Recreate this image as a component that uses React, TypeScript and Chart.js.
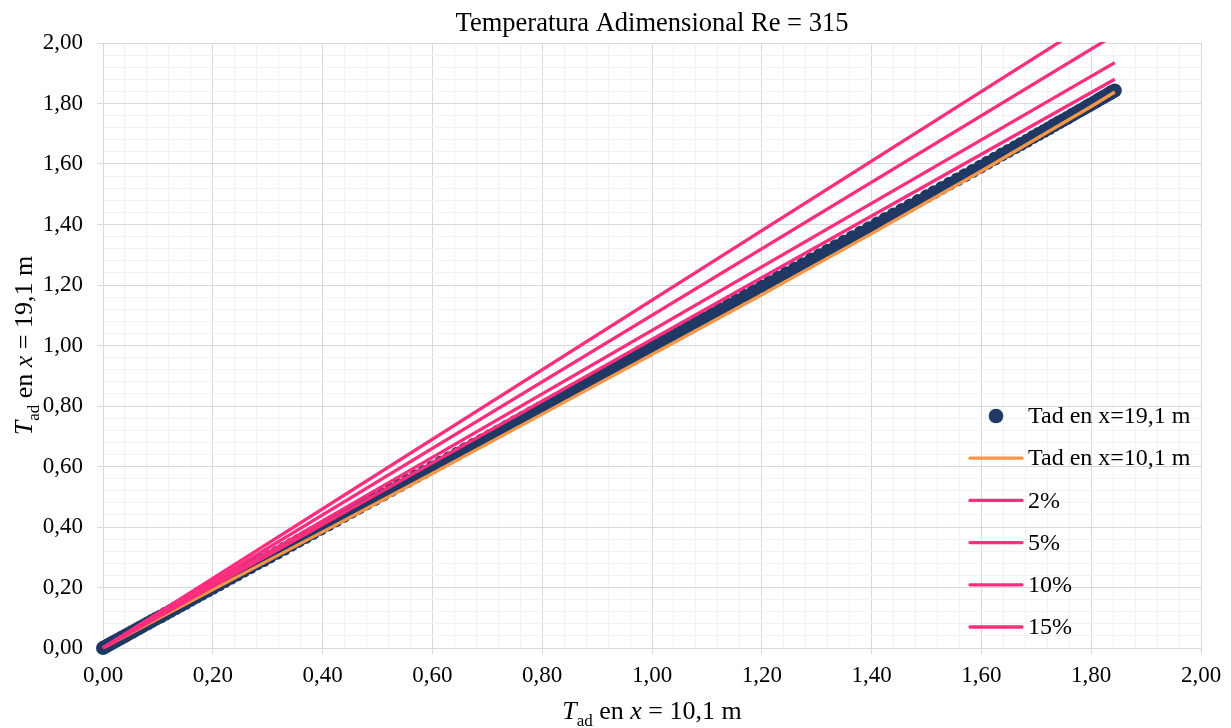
import React, { useEffect, useRef } from 'react';
import { Chart, registerables } from 'chart.js';

Chart.register(...registerables);

const FONT = '"Liberation Serif", "Times New Roman", serif';

const titleText = 'Temperatura Adimensional Re = 315';

// Tad at x = 19,1 m (navy dots) plotted against Tad at x = 10,1 m
const navyX = [
  0, 0.004, 0.008, 0.012, 0.017, 0.022, 0.027, 0.033, 0.039, 0.045,
  0.052, 0.059, 0.066, 0.073, 0.081, 0.089, 0.097, 0.105, 0.114, 0.123,
  0.132, 0.141, 0.15, 0.16, 0.17, 0.18, 0.19, 0.2, 0.211, 0.222,
  0.233, 0.244, 0.256, 0.268, 0.28, 0.292, 0.304, 0.317, 0.33, 0.343,
  0.356, 0.369, 0.382, 0.396, 0.41, 0.424, 0.438, 0.452, 0.466, 0.48,
  0.495, 0.51, 0.525, 0.54, 0.555, 0.57, 0.585, 0.6, 0.615, 0.63,
  0.645, 0.66, 0.675, 0.69, 0.705, 0.72, 0.735, 0.75, 0.765, 0.78,
  0.795, 0.81, 0.825, 0.84, 0.855, 0.87, 0.885, 0.9, 0.915, 0.93,
  0.945, 0.96, 0.975, 0.99, 1.005, 1.02, 1.035, 1.05, 1.065, 1.08,
  1.095, 1.11, 1.125, 1.14, 1.155, 1.17, 1.185, 1.2, 1.215, 1.23,
  1.245, 1.26, 1.275, 1.29, 1.305, 1.32, 1.335, 1.35, 1.365, 1.38,
  1.395, 1.41, 1.425, 1.44, 1.455, 1.47, 1.485, 1.5, 1.514, 1.528,
  1.542, 1.556, 1.57, 1.584, 1.598, 1.611, 1.624, 1.637, 1.649, 1.661,
  1.672, 1.683, 1.694, 1.704, 1.714, 1.723, 1.732, 1.741, 1.749, 1.757,
  1.765, 1.772, 1.779, 1.786, 1.792, 1.798, 1.804, 1.809, 1.814, 1.819,
  1.823, 1.827, 1.831, 1.834, 1.837, 1.84, 1.843,
];
const navyY = [
  0, 0.004, 0.008, 0.012, 0.017, 0.022, 0.027, 0.033, 0.039, 0.045,
  0.052, 0.059, 0.066, 0.073, 0.081, 0.089, 0.097, 0.104, 0.113, 0.122,
  0.131, 0.14, 0.149, 0.159, 0.169, 0.179, 0.189, 0.199, 0.21, 0.221,
  0.232, 0.243, 0.255, 0.267, 0.279, 0.29, 0.302, 0.315, 0.328, 0.341,
  0.354, 0.367, 0.38, 0.394, 0.408, 0.422, 0.436, 0.45, 0.464, 0.478,
  0.492, 0.507, 0.522, 0.537, 0.552, 0.567, 0.582, 0.597, 0.612, 0.627,
  0.642, 0.657, 0.672, 0.686, 0.701, 0.716, 0.731, 0.746, 0.761, 0.776,
  0.791, 0.806, 0.821, 0.836, 0.851, 0.866, 0.881, 0.895, 0.91, 0.925,
  0.94, 0.955, 0.97, 0.985, 1.0, 1.015, 1.03, 1.045, 1.06, 1.075,
  1.09, 1.104, 1.119, 1.134, 1.149, 1.164, 1.179, 1.194, 1.209, 1.224,
  1.239, 1.254, 1.269, 1.284, 1.298, 1.313, 1.328, 1.343, 1.358, 1.373,
  1.388, 1.403, 1.418, 1.433, 1.448, 1.463, 1.478, 1.493, 1.507, 1.521,
  1.535, 1.549, 1.563, 1.577, 1.591, 1.604, 1.617, 1.631, 1.643, 1.655,
  1.666, 1.677, 1.689, 1.699, 1.709, 1.718, 1.728, 1.737, 1.745, 1.753,
  1.762, 1.769, 1.776, 1.783, 1.79, 1.796, 1.802, 1.807, 1.813, 1.818,
  1.822, 1.826, 1.83, 1.834, 1.837, 1.84, 1.843,
];

// Tad at x = 10,1 m (orange line)
const orangeX = [0, 0.2, 0.4, 0.6, 0.8, 1.0, 1.2, 1.4, 1.6, 1.8, 1.843];
const orangeY = [0, 0.193, 0.384, 0.577, 0.773, 0.97, 1.168, 1.37, 1.577, 1.79, 1.838];

// Deviation lines
const pctX = [0, 1.843];
const pct2Y = [0, 1.88];
const pct5Y = [0, 1.935];
const pct10Y = [0, 2.027];
const pct15Y = [0, 2.119];

const seriesLabels = ['Tad en x=19,1 m', 'Tad en x=10,1 m', '2%', '5%', '10%', '15%'];

const NAVY = '#1F3864';
const ORANGE = '#F79646';
const PINK = '#FF2D7E';
const MAJOR = '#D9D9D9';
const MINOR = '#F2F2F2';

const pts = (xs: number[], ys: number[]) => xs.map((x, i) => ({ x, y: ys[i] }));
const isMajor = (v: number) => {
  const r = v / 0.2;
  return Math.abs(r - Math.round(r)) < 1e-6;
};
const fmt = (v: number) => v.toFixed(2).replace('.', ',');

type Part = { t: string; italic?: boolean; sub?: boolean };

function drawRich(ctx: CanvasRenderingContext2D, parts: Part[], size: number, cx: number, cy: number, rotate: boolean) {
  const subSize = Math.round(size * 0.66);
  const fontOf = (p: Part) => `${p.italic ? 'italic ' : ''}${p.sub ? subSize : size}px ${FONT}`;
  let w = 0;
  for (const p of parts) {
    ctx.font = fontOf(p);
    w += ctx.measureText(p.t).width;
  }
  ctx.save();
  ctx.translate(cx, cy);
  if (rotate) ctx.rotate(-Math.PI / 2);
  ctx.textAlign = 'left';
  ctx.textBaseline = 'alphabetic';
  ctx.fillStyle = '#000';
  let x = -w / 2;
  for (const p of parts) {
    ctx.font = fontOf(p);
    ctx.fillText(p.t, x, p.sub ? size * 0.25 : 0);
    x += ctx.measureText(p.t).width;
  }
  ctx.restore();
}

const overlayPlugin = {
  id: 'overlay',
  afterDraw(chart: any) {
    const ctx: CanvasRenderingContext2D = chart.ctx;
    const area = chart.chartArea;
    const cx = (area.left + area.right) / 2;
    const cy = (area.top + area.bottom) / 2;
    ctx.save();
    // title
    ctx.fillStyle = '#000';
    ctx.font = `26.5px ${FONT}`;
    ctx.textAlign = 'center';
    ctx.textBaseline = 'alphabetic';
    ctx.fillText(titleText, cx, 31);
    // axis titles
    drawRich(ctx, [{ t: 'T', italic: true }, { t: 'ad', sub: true }, { t: ' en ' }, { t: 'x', italic: true }, { t: ' = 10,1 m' }], 26, cx, 719, false);
    drawRich(ctx, [{ t: 'T', italic: true }, { t: 'ad', sub: true }, { t: ' en ' }, { t: 'x', italic: true }, { t: ' = 19,1 m' }], 26, 32, cy, true);
    // legend
    const rowY0 = 416;
    const step = 42.2;
    const ds = chart.data.datasets;
    ctx.font = `24px ${FONT}`;
    ctx.textAlign = 'left';
    ctx.textBaseline = 'middle';
    ds.forEach((d: any, i: number) => {
      const y = rowY0 + i * step;
      if (d.showLine === false) {
        ctx.beginPath();
        ctx.fillStyle = d.pointBackgroundColor;
        ctx.arc(996, y, 7.3, 0, Math.PI * 2);
        ctx.fill();
      } else {
        ctx.beginPath();
        ctx.strokeStyle = d.borderColor;
        ctx.lineWidth = d.borderWidth;
        ctx.lineCap = 'round';
        ctx.moveTo(970, y);
        ctx.lineTo(1022, y);
        ctx.stroke();
      }
      ctx.fillStyle = '#000';
      ctx.fillText(d.label, 1028, y + 1);
    });
    ctx.restore();
  },
};

export default function App() {
  const canvasRef = useRef<HTMLCanvasElement | null>(null);

  useEffect(() => {
    if (!canvasRef.current) return;
    Chart.defaults.font.family = FONT;
    const lineDs = (label: string, ys: number[], xs: number[], color: string, order: number, width = 3.3) => ({
      label,
      data: pts(xs, ys),
      showLine: true,
      borderColor: color,
      backgroundColor: color,
      borderWidth: width,
      pointRadius: 0,
      pointHoverRadius: 0,
      fill: false,
      tension: 0,
      order,
      clip: 1,
    });
    const chart = new Chart(canvasRef.current, {
      type: 'scatter',
      data: {
        datasets: [
          {
            label: seriesLabels[0],
            data: pts(navyX, navyY),
            showLine: false,
            pointRadius: 7,
            pointHoverRadius: 7,
            pointBorderWidth: 0,
            pointBackgroundColor: NAVY,
            backgroundColor: NAVY,
            borderColor: NAVY,
            order: 10,
            clip: false,
          } as any,
          lineDs(seriesLabels[1], orangeY, orangeX, ORANGE, 9),
          lineDs(seriesLabels[2], pct2Y, pctX, PINK, 8),
          lineDs(seriesLabels[3], pct5Y, pctX, PINK, 7),
          lineDs(seriesLabels[4], pct10Y, pctX, PINK, 6),
          lineDs(seriesLabels[5], pct15Y, pctX, PINK, 5),
        ],
      },
      options: {
        responsive: false,
        animation: false,
        devicePixelRatio: 1,
        layout: { padding: { top: 43, right: 30, left: 0, bottom: 0 } },
        plugins: {
          legend: { display: false },
          title: { display: false },
          tooltip: { enabled: false },
        },
        scales: {
          x: {
            type: 'linear',
            min: 0,
            max: 2,
            afterFit: (s: any) => {
              s.height = 80;
            },
            afterBuildTicks: (s: any) => {
              const t = [];
              for (let i = 0; i <= 50; i++) t.push({ value: Math.round(i * 4) / 100 });
              s.ticks = t;
            },
            ticks: {
              autoSkip: false,
              maxRotation: 0,
              minRotation: 0,
              padding: 8,
              color: '#000',
              font: { size: 23, family: FONT },
              callback: (v: any) => (isMajor(Number(v)) ? fmt(Number(v)) : ''),
            },
            grid: {
              color: (c: any) => (c.tick && isMajor(c.tick.value) ? MAJOR : MINOR),
              tickColor: (c: any) => (c.tick && isMajor(c.tick.value) ? MAJOR : 'rgba(0,0,0,0)'),
              tickLength: 6,
              lineWidth: 1,
            },
            border: { display: true, color: MAJOR, width: 1 },
          },
          y: {
            type: 'linear',
            min: 0,
            max: 2,
            afterFit: (s: any) => {
              s.width = 103;
            },
            afterBuildTicks: (s: any) => {
              const t = [];
              for (let i = 0; i <= 50; i++) t.push({ value: Math.round(i * 4) / 100 });
              s.ticks = t;
            },
            ticks: {
              autoSkip: false,
              padding: 14,
              color: '#000',
              font: { size: 23, family: FONT },
              callback: (v: any) => (isMajor(Number(v)) ? fmt(Number(v)) : ''),
            },
            grid: {
              color: (c: any) => (c.tick && isMajor(c.tick.value) ? MAJOR : MINOR),
              tickColor: (c: any) => (c.tick && isMajor(c.tick.value) ? MAJOR : 'rgba(0,0,0,0)'),
              tickLength: 6,
              lineWidth: 1,
            },
            border: { display: true, color: MAJOR, width: 1 },
          },
        },
      },
      plugins: [overlayPlugin],
    });
    return () => chart.destroy();
  }, []);

  return (
    <div style={{ position: 'fixed', left: 0, top: 0, width: 1231, height: 728, background: '#fff' }}>
      <canvas ref={canvasRef} width={1231} height={728} style={{ display: 'block', width: 1231, height: 728 }} />
    </div>
  );
}
